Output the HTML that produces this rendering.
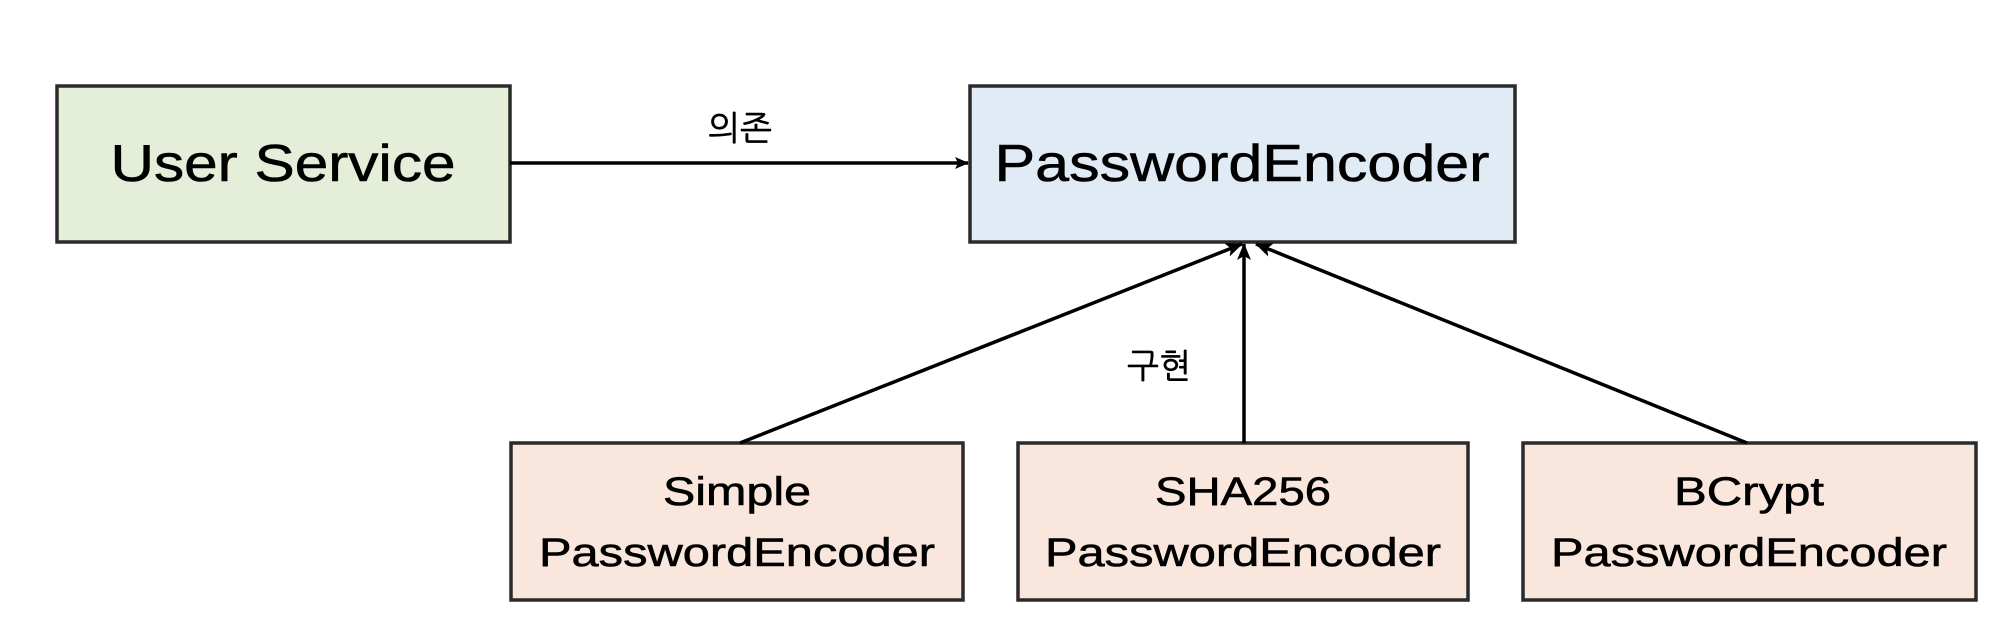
<!DOCTYPE html>
<html><head><meta charset="utf-8"><style>html,body{margin:0;padding:0;background:#fff}</style></head>
<body>
<svg width="2000" height="627" viewBox="0 0 2000 627" xmlns="http://www.w3.org/2000/svg" font-family="'Liberation Sans','NanumGothic',sans-serif">
<defs>
<marker id="a" markerWidth="14" markerHeight="14" refX="13" refY="7" orient="auto" markerUnits="userSpaceOnUse"><path d="M0,1 L14,7 L0,13 L3,7 z" fill="#000"/></marker>
<marker id="b" markerWidth="18" markerHeight="18" refX="16" refY="9" orient="auto" markerUnits="userSpaceOnUse"><path d="M0,2 L17,9 L0,16 L4,9 z" fill="#000"/></marker>
</defs>
<rect x="57" y="86" width="453" height="156" fill="#e4eed9" stroke="#2a2a2a" stroke-width="3.5"/>
<rect x="970" y="86" width="545" height="156" fill="#e1ebf6" stroke="#2a2a2a" stroke-width="3.5"/>
<rect x="511" y="443" width="452" height="157" fill="#f9e6dc" stroke="#2a2a2a" stroke-width="3.5"/>
<rect x="1018" y="443" width="450" height="157" fill="#f9e6dc" stroke="#2a2a2a" stroke-width="3.5"/>
<rect x="1523" y="443" width="453" height="157" fill="#f9e6dc" stroke="#2a2a2a" stroke-width="3.5"/>
<line x1="510" y1="163" x2="968" y2="163" stroke="#000" stroke-width="3.5" marker-end="url(#a)"/>
<line x1="740" y1="443" x2="1242" y2="244" stroke="#000" stroke-width="3.5" marker-end="url(#b)"/>
<line x1="1244" y1="443" x2="1244" y2="244" stroke="#000" stroke-width="3.5" marker-end="url(#b)"/>
<line x1="1747" y1="443" x2="1256" y2="244" stroke="#000" stroke-width="3.5" marker-end="url(#b)"/>
<g fill="#000" text-anchor="middle" stroke="#000" stroke-width="0.6">
<text x="283" y="181" font-size="52" textLength="345" lengthAdjust="spacingAndGlyphs">User Service</text>
<text x="1242" y="181" font-size="52" textLength="495" lengthAdjust="spacingAndGlyphs">PasswordEncoder</text>
<text x="737" y="505" font-size="40" textLength="148" lengthAdjust="spacingAndGlyphs">Simple</text>
<text x="737" y="566" font-size="40" textLength="396" lengthAdjust="spacingAndGlyphs">PasswordEncoder</text>
<text x="1243" y="505" font-size="40" textLength="176" lengthAdjust="spacingAndGlyphs">SHA256</text>
<text x="1243" y="566" font-size="40" textLength="396" lengthAdjust="spacingAndGlyphs">PasswordEncoder</text>
<text x="1749" y="505" font-size="40" textLength="150" lengthAdjust="spacingAndGlyphs">BCrypt</text>
<text x="1749" y="566" font-size="40" textLength="396" lengthAdjust="spacingAndGlyphs">PasswordEncoder</text>
<text x="740" y="140" font-size="34" font-family="'NanumGothic','Noto Sans CJK KR',sans-serif">의존</text>
<text x="1159" y="378" font-size="34" font-family="'NanumGothic','Noto Sans CJK KR',sans-serif">구현</text>
</g>
</svg>
</body></html>
